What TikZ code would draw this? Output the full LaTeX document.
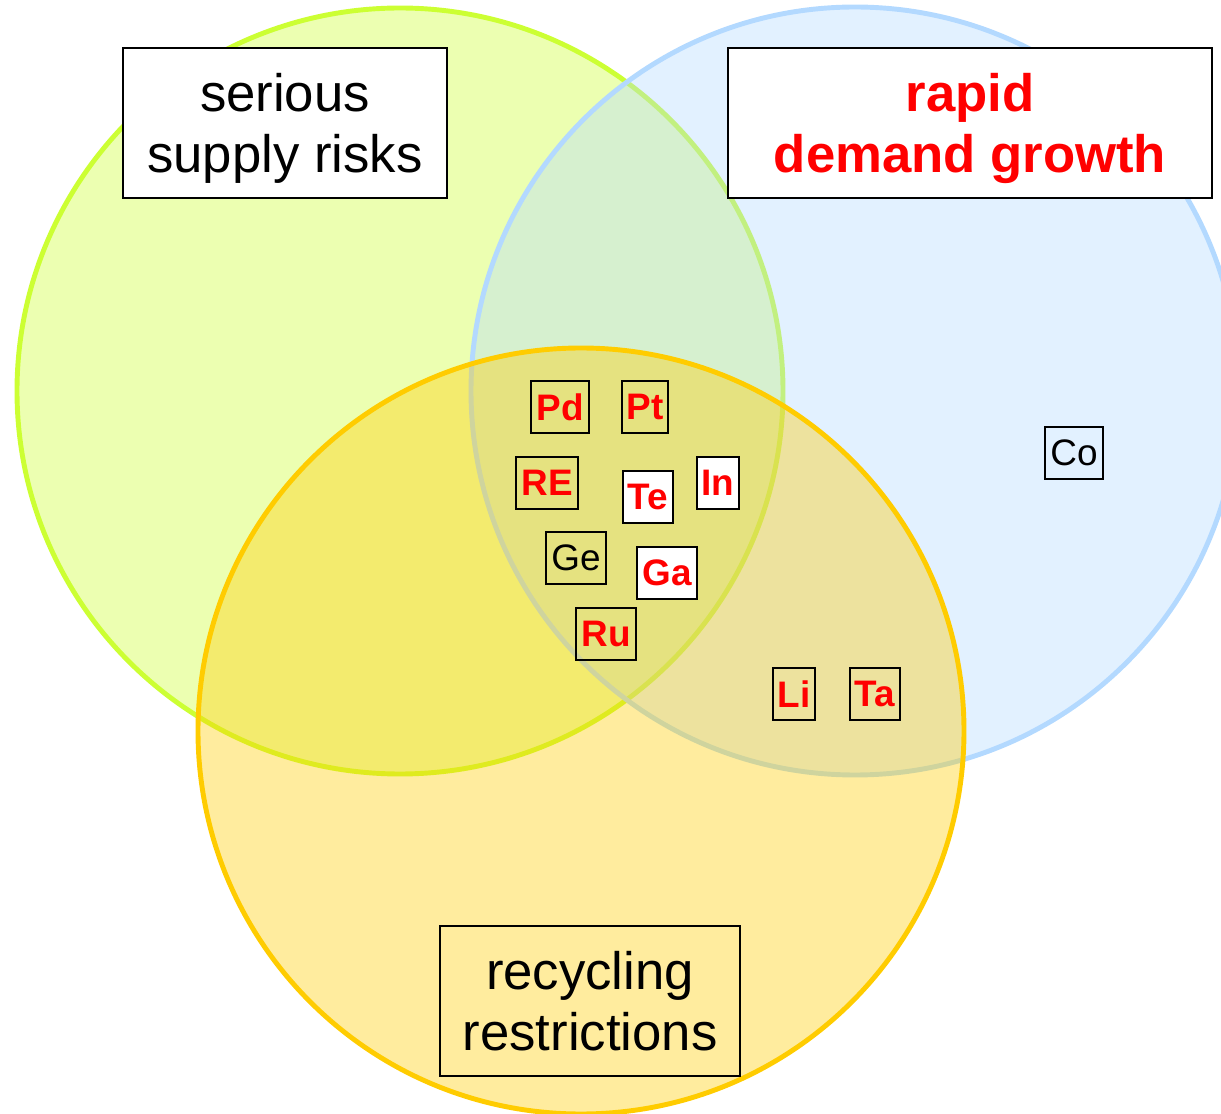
\documentclass[tikz,border=0pt]{standalone}
\usepackage{fontspec}
\setmainfont{Liberation Sans}
\definecolor{riskgreen}{RGB}{204,255,51}
\definecolor{demandblue}{RGB}{179,217,255}
\definecolor{recycleorange}{RGB}{255,204,0}
\begin{document}
\begin{tikzpicture}[x=0.02cm, y=-0.02cm,
  circ/.style={line width=2.8pt, fill opacity=0.38},
  titlebox/.style={draw, line width=1.1pt, minimum height=3cm, align=center,
    font=\fontsize{30}{35}\selectfont},
  elem/.style={draw, line width=1.1pt, minimum height=1.04cm, inner xsep=0.1cm,
    font=\fontsize{21}{21}\selectfont\bfseries, text=red},
  whitebox/.style={fill=white}]
\clip (0,0) rectangle (1221,1114);
% circles
\draw[circ, draw=riskgreen, fill=riskgreen] (400,391) circle (383);
\draw[circ, draw=demandblue, fill=demandblue] (855,391) circle (384);
\draw[circ, draw=recycleorange, fill=recycleorange] (581,731) circle (383);
% circle titles
\node[titlebox, fill=white, minimum width=6.48cm, text depth=-1.5pt] (risks) at (285,123) {serious\\supply risks};
\node[titlebox, fill=white, minimum width=9.68cm, text depth=-1.5pt, text=red, font=\fontsize{30}{35}\selectfont\bfseries] (demand) at (970,123) {rapid\\demand growth};
\node[titlebox, minimum width=6cm, text depth=-3pt] (recycling) at (590,1001) {recycling\\restrictions};
% elements
\node[elem] (pd) at (560,407) {Pd};
\node[elem] (pt) at (645,407) {Pt};
\node[elem] (re) at (547,483) {RE};
\node[elem, whitebox] (te) at (648,497) {Te};
\node[elem, whitebox] (in) at (718,483) {In};
\node[elem, text=black, font=\fontsize{21}{21}\selectfont] (ge) at (576,558) {Ge};
\node[elem, whitebox] (ga) at (667,573) {Ga};
\node[elem] (ru) at (606,634) {Ru};
\node[elem] (li) at (794,694) {Li};
\node[elem] (ta) at (875,694) {Ta};
\node[elem, text=black, font=\fontsize{21}{21}\selectfont] (co) at (1074,453) {Co};
\end{tikzpicture}
\end{document}
